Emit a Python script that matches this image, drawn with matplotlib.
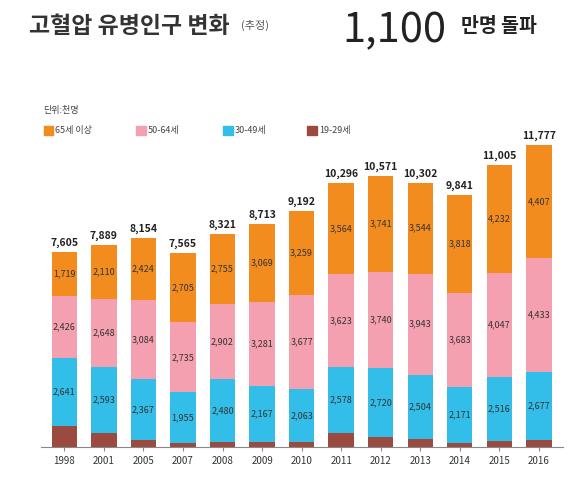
import matplotlib
matplotlib.use("Agg")
import matplotlib.pyplot as plt
import numpy as np

plt.rcParams['font.family'] = ['Noto Sans CJK KR', 'DejaVu Sans']

years = ['1998','2001','2005','2007','2008','2009','2010','2011','2012','2013','2014','2015','2016']
totals = [7605,7889,8154,7565,8321,8713,9192,10296,10571,10302,9841,11005,11777]
age65 = [1719,2110,2424,2705,2755,3069,3259,3564,3741,3544,3818,4232,4407]
age50 = [2426,2648,3084,2735,2902,3281,3677,3623,3740,3943,3683,4047,4433]
age30 = [2641,2593,2367,1955,2480,2167,2063,2578,2720,2504,2171,2516,2677]
age19 = [t-a-b-c for t,a,b,c in zip(totals,age65,age50,age30)]
labels = ['65세 이상','50-64세','30-49세','19-29세']
colors = ['#f28c1e','#f4a0b0','#33bde9','#9b4a40']

fig = plt.figure(figsize=(5.8,4.8), dpi=100)
ax = fig.add_axes([0.07,0.069,0.9,0.66])
x = np.arange(len(years))
w = 0.64
bottom = np.zeros(len(years))
series = [age19, age30, age50, age65]
cols = colors[::-1]
for i,(s,c) in enumerate(zip(series, cols)):
    ax.bar(x, s, w, bottom=bottom, color=c)
    if i > 0:
        for xi, b, v in zip(x, bottom, s):
            ax.text(xi, b+v/2, f'{v:,}', ha='center', va='center', fontsize=6.5, color='#333')
    bottom += np.array(s)
for xi, t in zip(x, totals):
    ax.text(xi, t+150, f'{t:,}', ha='center', va='bottom', fontsize=7.5, fontweight='bold', color='#222')
ax.set_xticks(x)
ax.set_xticklabels(years, fontsize=7, color='#333')
ax.set_xlim(-0.6, len(years)-0.4)
ax.set_ylim(0, 12360)
ax.set_yticks([])
for sp in ['top','right','left']:
    ax.spines[sp].set_visible(False)
ax.spines['bottom'].set_color('#888')
ax.tick_params(axis='x', length=3, color='#888')

fig.text(0.05, 0.945, '고혈압 유병인구 변화', fontsize=16.5, fontweight='bold', color='#333', va='center')
fig.text(0.415, 0.948, '(추정)', fontsize=8, color='#555', va='center')
fig.text(0.59, 0.935, '1,100', fontsize=30, color='#222', va='center')
fig.text(0.795, 0.945, '만명 돌파', fontsize=14, fontweight='bold', color='#222', va='center')
fig.text(0.075, 0.765, '단위:천명', fontsize=6.5, color='#444')
lx = [0.075, 0.235, 0.385, 0.53]
for xx, lab, c in zip(lx, labels, colors):
    fig.patches.append(plt.Rectangle((xx, 0.718), 0.016, 0.02, transform=fig.transFigure, color=c))
    fig.text(xx+0.02, 0.728, lab, fontsize=6.5, color='#444', va='center')
fig.savefig('out.png')
